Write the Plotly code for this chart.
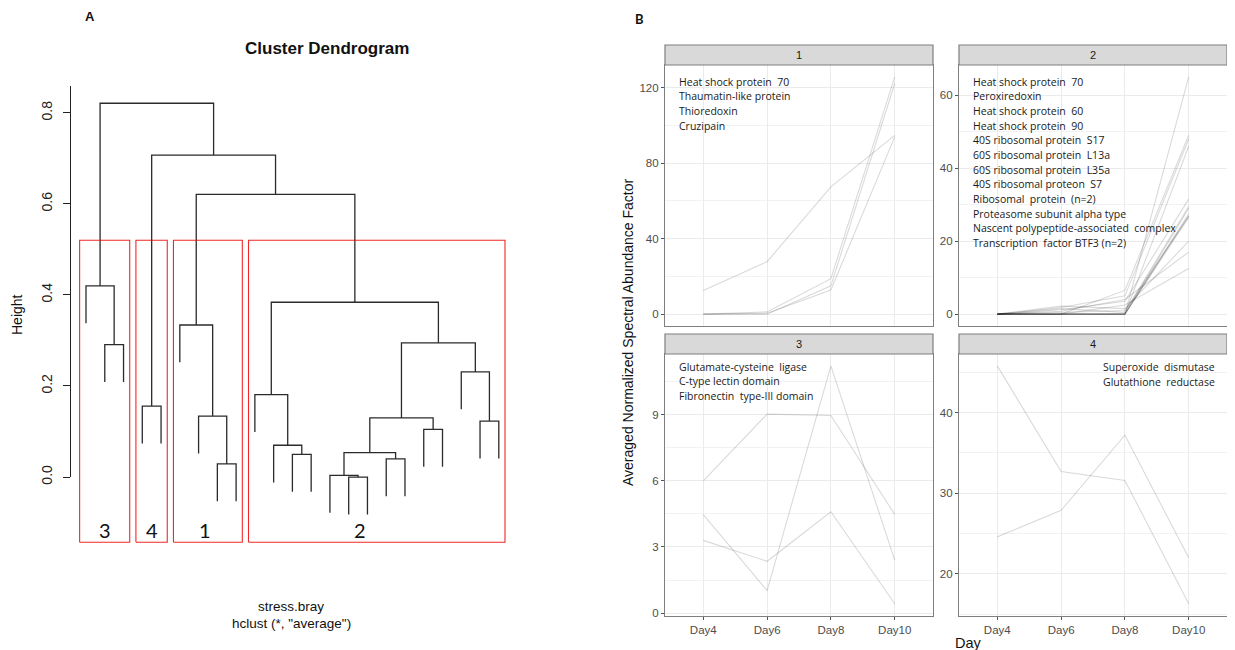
import plotly.graph_objects as go

W, H = 1235, 650
OFF = 8        # page body margin in the browser
H_EFF = 642    # rendered figure height inside the window

# ---------------- Panel A: dendrogram (hclust merge table, leaves in plotted order) ----
merge_left = [-15, -14, -8, -17, -12, 2, -11, -19, -22, 6, -7, -4, -10, -21, -2, 10, -6, 13, -1, 17, 12, 19]
merge_right = [-16, 1, -9, -18, -13, 4, 5, -20, -23, 8, 3, -5, 7, 9, -3, 14, 11, 16, 15, 18, 20, 21]
merge_height = [0.000, 0.004, 0.029, 0.040, 0.050, 0.054, 0.070, 0.105, 0.123, 0.130, 0.134,
                0.156, 0.181, 0.231, 0.291, 0.295, 0.334, 0.384, 0.420, 0.621, 0.707, 0.821]
leaf_hang = 0.082
cluster_sizes = [3, 2, 4, 14]
cluster_names = ["3", "4", "1", "2"]
cluster_label_x = [2.0, 4.5, 7.35, 15.6]
cut_height = 0.52
dend_yticks = [0.0, 0.2, 0.4, 0.6, 0.8]
dend_yticktext = ["0.0", "0.2", "0.4", "0.6", "0.8"]

# ---------------- Panel B: profiles per cluster ----------------
days = ["Day4", "Day6", "Day8", "Day10"]
c1_values = [
    [12.5, 27.8, 67.5, 94.8],
    [0.0, 0.5, 12.8, 94.0],
    [0.0, 0.0, 15.0, 122.3],
    [0.0, 1.2, 18.8, 125.8],
]
c2_values = [
    [0, 0.0, 0.0, 65.0],
    [0, 0.0, 6.5, 49.0],
    [0, 1.8, 5.0, 48.0],
    [0, 0.0, 0.0, 46.0],
    [0, 1.2, 3.5, 31.5],
    [0, 0.0, 0.0, 29.0],
    [0, 0.0, 0.0, 27.5],
    [0, 0.0, 0.0, 27.0],
    [0, 0.0, 0.0, 26.5],
    [0, 2.2, 1.5, 20.0],
    [0, 0.8, 4.0, 17.0],
    [0, 0.0, 2.5, 12.5],
    [0, 0.5, 1.0, 26.8],
    [0, 1.5, 0.5, 29.5],
]
c3_values = [
    [6.0, 9.03, 8.97, 4.48],
    [4.47, 1.02, 11.22, 2.4],
    [3.3, 2.35, 4.6, 0.42],
]
c4_values = [
    [45.8, 32.7, 31.6, 16.3],
    [24.6, 27.9, 37.2, 22.0],
]
c1_names = ["Heat shock protein  70", "Thaumatin-like protein", "Thioredoxin", "Cruzipain"]
c2_names = ["Heat shock protein  70", "Peroxiredoxin", "Heat shock protein  60",
            "Heat shock protein  90", "40S ribosomal protein  S17", "60S ribosomal protein  L13a",
            "60S ribosomal protein  L35a", "40S ribosomal proteon  S7", "Ribosomal  protein  (n=2)",
            "Proteasome subunit alpha type", "Nascent polypeptide-associated  complex",
            "Transcription  factor BTF3 (n=2)"]
c3_names = ["Glutamate-cysteine  ligase", "C-type lectin domain", "Fibronectin  type-III domain"]
c4_names = ["Superoxide  dismutase", "Glutathione  reductase"]
panel_ids = ["1", "2", "3", "4"]
panel_ticks = [[0, 40, 80, 120], [0, 20, 40, 60], [0, 3, 6, 9], [20, 30, 40]]
panel_minor = [20, 10, 1.5, 5]


def px(p):
    return (p - OFF) / W


def py(p):
    return 1 - (p - OFF) / H_EFF


fig = go.Figure()

# ---- dendrogram segments
node_x = {}
seg_x, seg_y = [], []
for i, (l, r, h) in enumerate(zip(merge_left, merge_right, merge_height), start=1):
    def child(c):
        if c < 0:
            return -c, h - leaf_hang
        return node_x[c], merge_height[c - 1]
    xl, hl = child(l)
    xr, hr = child(r)
    seg_x += [xl, xl, xr, xr, None]
    seg_y += [hl, h, h, hr, None]
    node_x[i] = (xl + xr) / 2

fig.add_trace(go.Scatter(x=seg_x, y=seg_y, mode="lines", line=dict(color="#2b2b2b", width=1.3),
                         xaxis="x", yaxis="y", showlegend=False, hoverinfo="skip"))

rect_bottom = -0.143
rx, ry = [], []
start = 0
for size in cluster_sizes:
    x0, x1 = start + 0.66, start + size + 0.33
    rx += [x0, x0, x1, x1, x0, None]
    ry += [rect_bottom, cut_height, cut_height, rect_bottom, rect_bottom, None]
    start += size
fig.add_trace(go.Scatter(x=rx, y=ry, mode="lines", line=dict(color="rgba(240,0,0,0.85)", width=1.1),
                         xaxis="x", yaxis="y", showlegend=False, hoverinfo="skip"))
for name, lx in zip(cluster_names, cluster_label_x):
    fig.add_annotation(x=lx, y=-0.116, xref="x", yref="y", text=name, showarrow=False,
                       xanchor="center", yanchor="middle",
                       font=dict(family="Lato", size=20, color="#111"))

# dummy trace for the visible height axis
fig.add_trace(go.Scatter(x=[None], y=[None], xaxis="x2", yaxis="y2", showlegend=False))

# ---- panel B traces
all_vals = [c1_values, c2_values, c3_values, c4_values]
for k, vals in enumerate(all_vals):
    ax = k + 3
    for v in vals:
        fig.add_trace(go.Scatter(x=days, y=v, mode="lines",
                                 line=dict(color="rgba(0,0,0,0.15)", width=1.1),
                                 xaxis=f"x{ax}", yaxis=f"y{ax}", showlegend=False, hoverinfo="skip"))

layout = dict(
    width=W, height=H, margin=dict(l=0, r=0, t=0, b=0),
    paper_bgcolor="white", plot_bgcolor="rgba(0,0,0,0)",
    xaxis=dict(domain=[px(70), px(520)], range=[0.147, 24.13], visible=False),
    yaxis=dict(domain=[py(545), py(80)], range=[-0.149, 0.872], visible=False),
    xaxis2=dict(domain=[px(70), px(520)], range=[0, 1], visible=False, anchor="y2"),
    yaxis2=dict(domain=[py(477), py(86)], range=[0, 0.8588], anchor="free", position=px(70),
                showline=True, linecolor="#222", linewidth=1, ticks="outside", ticklen=7,
                tickcolor="#222", tickvals=dend_yticks, ticktext=dend_yticktext, tickangle=-90,
                ticklabelstandoff=5,
                tickfont=dict(family="Arial", size=14, color="#222"), showgrid=False, zeroline=False),
)

panel_x = [(665, 933), (959, 1227), (665, 933), (959, 1227)]
panel_y = [(65, 326), (65, 326), (354, 615.7), (354, 615.7)]
shapes = []
for k in range(4):
    ax = k + 3
    flat = [a for v in all_vals[k] for a in v]
    lo, hi = min(flat), max(flat)
    pad = 0.05 * (hi - lo)
    bottom = k >= 2
    x0, x1 = panel_x[k]
    y0, y1 = panel_y[k]
    layout[f"xaxis{ax}"] = dict(
        domain=[px(x0), px(x1)], anchor=f"y{ax}", type="category", categoryorder="array",
        categoryarray=days, range=[-0.6, 3.6], showgrid=True, gridcolor="#ebebeb", gridwidth=1,
        showline=True, mirror=True, linecolor="#7f7f7f", linewidth=1.2, zeroline=False,
        ticks="outside" if bottom else "", ticklen=3, tickcolor="#555",
        showticklabels=bottom, tickfont=dict(family="Arial", size=11.5, color="#4d4d4d"))
    layout[f"yaxis{ax}"] = dict(
        domain=[py(y1), py(y0)], anchor=f"x{ax}", range=[lo - pad, hi + pad],
        tickvals=panel_ticks[k], showgrid=True, gridcolor="#ebebeb", gridwidth=1,
        minor=dict(dtick=panel_minor[k], tick0=panel_ticks[k][0], showgrid=True,
                   gridcolor="#f2f2f2", gridwidth=0.7, ticks=""),
        showline=True, mirror=True, linecolor="#7f7f7f", linewidth=1.2, zeroline=False,
        ticks="outside", ticklen=3, tickcolor="#555",
        tickfont=dict(family="Arial", size=11.5, color="#4d4d4d"))
    shapes.append(dict(type="rect", xref="paper", yref="paper", x0=px(x0), x1=px(x1),
                       y0=py(y0), y1=py(y0 - 20), fillcolor="#d9d9d9",
                       line=dict(color="#7f7f7f", width=1.2)))
    fig.add_annotation(x=px((x0 + x1) / 2), y=py(y0 - 10), xref="paper", yref="paper",
                       text=panel_ids[k], showarrow=False, xanchor="center", yanchor="middle",
                       font=dict(family="Arial", size=11, color="#1a1a1a"))

layout["shapes"] = shapes
fig.update_layout(**layout)

# protein name annotations (one per line)
name_lists = [c1_names, c2_names, c3_names, c4_names]
name_pos = [(677, 81.7), (970.5, 81.7), (677, 366.7), (1101, 367.3)]
line_step = 14.65
for names, (nx, ny) in zip(name_lists, name_pos):
    for j, nm in enumerate(names):
        fig.add_annotation(x=px(nx), y=py(ny + j * line_step), xref="paper", yref="paper",
                           xanchor="left", yanchor="middle", showarrow=False, text=nm,
                           font=dict(family="Open Sans", size=10.5, color="#1a1a1a"))

# titles / labels
texts = [
    ("A", 90, 17, 13, True, 0, "Arial"),
    ("Cluster Dendrogram", 327, 48, 17, True, 0, "Arial"),
    ("Height", 17, 315, 14, False, -90, "Arial"),
    ("stress.bray", 291, 606, 13.5, False, 0, "Arial"),
    ("hclust (*, \"average\")", 291, 623, 13.5, False, 0, "Arial"),
    ("Averaged Normalized Spectral Abundance Factor", 628, 333, 14, False, -90, "Arial"),
    ("Day", 968, 643, 14.5, False, 0, "Arial"),
]
for t, x, y, s, b, ang, fam in texts:
    fig.add_annotation(x=px(x), y=py(y), xref="paper", yref="paper", showarrow=False,
                       xanchor="center", yanchor="middle",
                       text=f"<b>{t}</b>" if b else t, textangle=ang,
                       font=dict(family=fam, size=s, color="#111"))
fig.add_annotation(x=px(639), y=0.999, xref="paper", yref="paper", showarrow=False,
                   xanchor="center", yanchor="top", text="<b>B</b>",
                   font=dict(family="Lato", size=13, color="#111"))

fig.write_html("out.html")
